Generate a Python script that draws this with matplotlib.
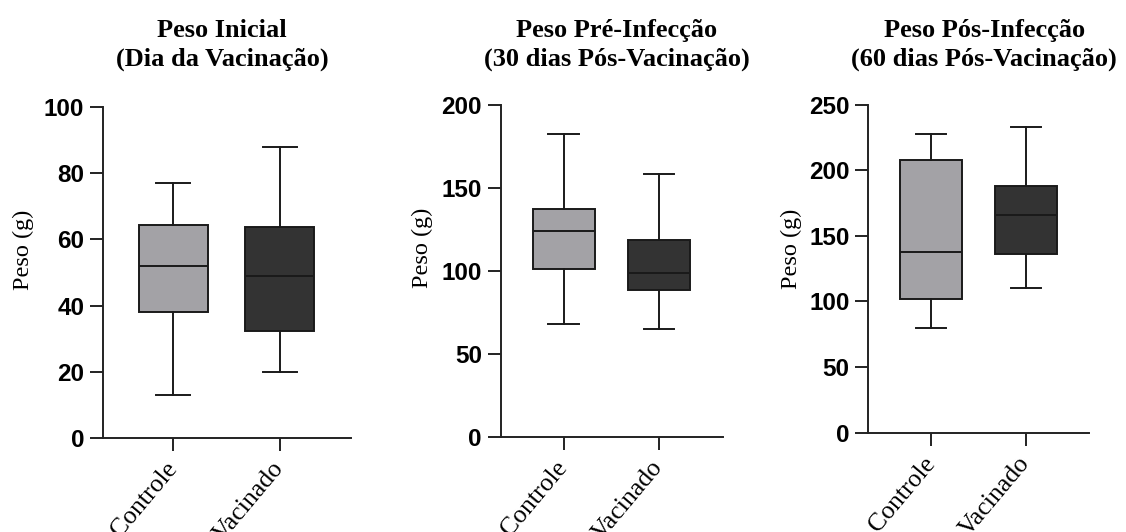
import matplotlib
matplotlib.use("Agg")
import matplotlib.pyplot as plt

# Grupos e cores
groups = ["Controle", "Vacinado"]
box_colors = ["#a3a2a6", "#333333"]

# Títulos dos painéis
titles = ["Peso Inicial\n(Dia da Vacinação)",
          "Peso Pré-Infecção\n(30 dias Pós-Vacinação)",
          "Peso Pós-Infecção\n(60 dias Pós-Vacinação)"]

# Estatísticas dos boxplots: [mínimo, Q1, mediana, Q3, máximo] por grupo
inicial_controle = [13, 38, 52, 64.5, 77]
inicial_vacinado = [20, 32.2, 49, 63.8, 88]
pre_controle = [67.7, 101, 124, 137, 182.5]
pre_vacinado = [64.7, 88.5, 98.7, 118.5, 158.5]
pos_controle = [79.5, 102, 138, 208, 228]
pos_vacinado = [110.5, 136, 166, 188, 233]

# Eixo y de cada painel
y_max = [100, 200, 250]
y_step = [20, 50, 50]

panels = [(inicial_controle, inicial_vacinado),
          (pre_controle, pre_vacinado),
          (pos_controle, pos_vacinado)]

# Posições dos eixos na figura
positions = [[0.0915, 0.1767, 0.2202, 0.622],
             [0.4447, 0.179, 0.1972, 0.624],
             [0.7711, 0.1867, 0.1963, 0.6165]]
title_x = [0.197, 0.548, 0.874]
label_pos = [(-0.32, 0.568), (-0.354, 0.568), (-0.347, 0.562)]

serif = "Liberation Serif"
sans = "Liberation Sans"

fig = plt.figure(figsize=(11.26, 5.32), dpi=100)

for i, (ctrl, vac) in enumerate(panels):
    ax = fig.add_axes(positions[i])
    stats = []
    for name, v in zip(groups, (ctrl, vac)):
        stats.append({"label": name, "whislo": v[0], "q1": v[1], "med": v[2],
                      "q3": v[3], "whishi": v[4], "fliers": []})
    bp = ax.bxp(stats, positions=[0, 1], widths=0.65, patch_artist=True,
                showfliers=False, capwidths=0.32,
                boxprops=dict(linewidth=1.4, edgecolor="#1a1a1a"),
                medianprops=dict(color="#1a1a1a", linewidth=1.4),
                whiskerprops=dict(color="#1a1a1a", linewidth=1.4),
                capprops=dict(color="#1a1a1a", linewidth=1.4))
    for patch, c in zip(bp["boxes"], box_colors):
        patch.set_facecolor(c)

    ax.set_xlim(-0.66, 1.67)
    ax.set_ylim(0, y_max[i])
    ax.set_yticks(range(0, y_max[i] + 1, y_step[i]))
    ax.spines["top"].set_visible(False)
    ax.spines["right"].set_visible(False)
    for s in ("left", "bottom"):
        ax.spines[s].set_linewidth(1.4)
        ax.spines[s].set_color("#222222")
    ax.tick_params(axis="both", length=9.5, width=1.4, color="#222222")
    ax.tick_params(axis="y", pad=4)
    for lab in ax.get_yticklabels():
        lab.set_fontfamily(sans)
        lab.set_fontweight("bold")
        lab.set_fontsize(17.5)
    ax.set_xticks([0, 1])
    ax.set_xticklabels(groups, rotation=50, ha="right", va="center",
                       rotation_mode="anchor", fontfamily=serif, fontsize=18.5)
    ax.tick_params(axis="x", pad=10)

    ax.text(label_pos[i][0], label_pos[i][1], "Peso (g)", transform=ax.transAxes,
            rotation=90, ha="center", va="center", fontfamily=serif, fontsize=17.5)

    fig.text(title_x[i], 0.915, titles[i], ha="center", va="center",
             fontfamily=serif, fontweight="bold", fontsize=19, linespacing=1.32)

fig.savefig("out.png", dpi=100)
